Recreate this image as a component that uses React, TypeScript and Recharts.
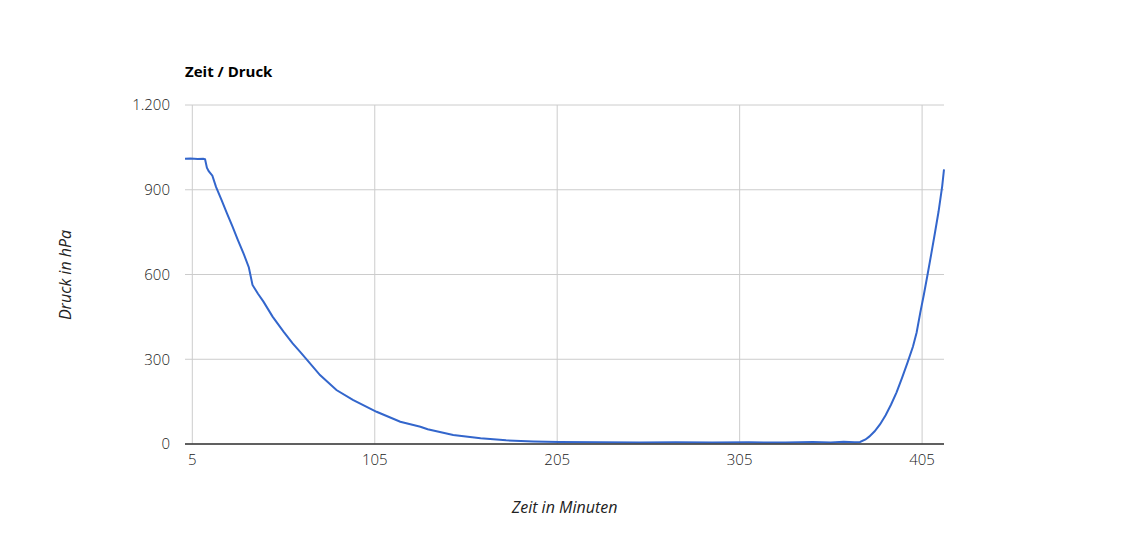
import React from "react";
import {
  LineChart,
  Line,
  XAxis,
  YAxis,
  CartesianGrid,
  ReferenceLine,
  Label,
} from "recharts";

const minutes = [
  1, 4, 8, 11, 12, 13, 14, 16, 18, 21, 24, 27, 30, 33, 36, 38, 41, 44, 49,
  55, 60, 64, 68, 75, 84, 93, 106, 119, 130, 134, 148, 163, 177, 192, 206,
  229, 250, 270, 290, 310, 330, 345, 355, 362, 368, 371, 374, 376, 379, 382,
  385, 388, 391, 394, 397, 400, 402, 404, 406, 408, 410, 412, 414, 416, 417,
];
const pressure = [
  1010, 1011, 1009, 1010, 1008, 978, 966, 950, 910, 864, 816, 770, 722, 676,
  625, 563, 532, 504, 451, 398, 356, 327, 297, 244, 191, 156, 114, 79, 61, 52,
  32, 20, 13, 9, 7, 6, 5, 6, 5, 6, 5, 7, 5, 8, 6, 7, 16, 26, 45, 70, 102, 140,
  183, 234, 288, 345, 395, 465, 530, 600, 672, 746, 822, 912, 972,
];
const xTicks = [5, 105, 205, 305, 405];
const yTicks = [0, 300, 600, 900, 1200];

const data = minutes.map((m, i) => ({ m, p: pressure[i] }));

const font = "'Open Sans', Arial, sans-serif";

export default function App() {
  return (
    <div
      style={{
        position: "absolute",
        left: 0,
        top: 0,
        width: 1130,
        height: 550,
        background: "#fff",
        fontFamily: font,
      }}
    >
      <div
        style={{
          position: "absolute",
          left: 185,
          top: 61,
          fontSize: 15,
          fontWeight: 700,
          color: "#000",
        }}
      >
        Zeit / Druck
      </div>
      <LineChart
        width={1130}
        height={550}
        data={data}
        margin={{ top: 105, right: 186, bottom: 30, left: 55 }}
      >
        <CartesianGrid stroke="#cccccc" strokeWidth={1} vertical={false} />
        {xTicks.map((t) => (
          <ReferenceLine key={t} x={t} stroke="#cccccc" strokeWidth={1} />
        ))}
        <XAxis
          dataKey="m"
          type="number"
          domain={[1, 417]}
          ticks={xTicks}
          tickLine={false}
          tickMargin={4}
          height={76}
          axisLine={{ stroke: "#333333", strokeWidth: 1.5 }}
          tick={{ fill: "#222222", fontSize: 15, fontWeight: 300, fontFamily: font }}
        >
          <Label
            value="Zeit in Minuten"
            position="insideBottom"
            offset={7}
            style={{
              fontStyle: "italic",
              fontSize: 16,
              fill: "#222222",
              fontFamily: font,
            }}
          />
        </XAxis>
        <YAxis
          type="number"
          domain={[0, 1200]}
          ticks={yTicks}
          width={130}
          tickLine={false}
          axisLine={false}
          tickMargin={9}
          tickFormatter={(v: number) => v.toLocaleString("de-DE")}
          tick={{ fill: "#222222", fontSize: 15, fontWeight: 300, fontFamily: font }}
        >
          <Label
            content={() => (
              <text
                x={71}
                y={275}
                transform="rotate(-90 71 275)"
                textAnchor="middle"
                style={{
                  fontStyle: "italic",
                  fontSize: 16,
                  fill: "#222222",
                  fontFamily: font,
                }}
              >
                Druck in hPa
              </text>
            )}
          />
        </YAxis>
        <Line
          type="linear"
          dataKey="p"
          stroke="#3366cc"
          strokeWidth={2}
          dot={false}
          isAnimationActive={false}
        />
      </LineChart>
    </div>
  );
}
